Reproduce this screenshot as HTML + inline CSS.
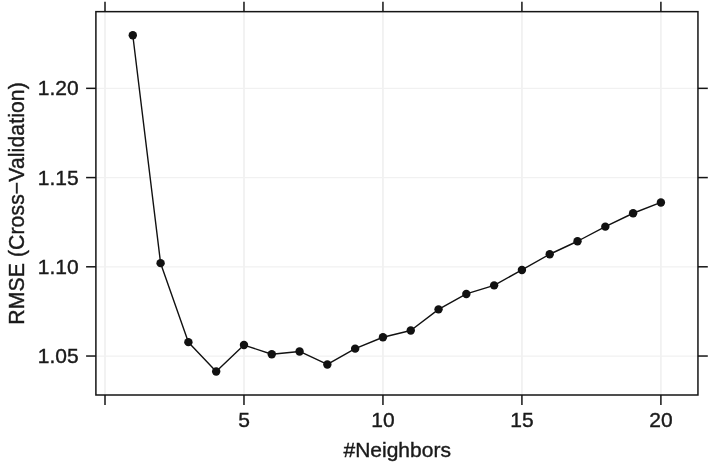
<!DOCTYPE html>
<html lang="en"><head><meta charset="utf-8"><title>RMSE (Cross-Validation) vs #Neighbors</title>
<style>html,body{margin:0;padding:0;background:#fff;}svg{display:block;}text{font-family:"Liberation Sans",sans-serif;fill:#1a1a1a;stroke:#1a1a1a;stroke-width:0.4px;}</style></head><body>
<svg width="717" height="463" viewBox="0 0 717 463">
<rect width="717" height="463" fill="#fff"/>
<g stroke="#f1f1f1" fill="none">
<line x1="105.00" y1="11.65" x2="105.00" y2="395.0" stroke-width="1.8"/>
<line x1="243.98" y1="11.65" x2="243.98" y2="395.0" stroke-width="1.8"/>
<line x1="382.95" y1="11.65" x2="382.95" y2="395.0" stroke-width="1.8"/>
<line x1="521.92" y1="11.65" x2="521.92" y2="395.0" stroke-width="1.8"/>
<line x1="660.90" y1="11.65" x2="660.90" y2="395.0" stroke-width="1.8"/>
<line x1="95.9" y1="88.35" x2="697.95" y2="88.35" stroke-width="1.2"/>
<line x1="95.9" y1="177.58" x2="697.95" y2="177.58" stroke-width="1.2"/>
<line x1="95.9" y1="266.8" x2="697.95" y2="266.8" stroke-width="1.2"/>
<line x1="95.9" y1="356.03" x2="697.95" y2="356.03" stroke-width="1.2"/>
</g>
<polyline fill="none" stroke="#111" stroke-width="1.4" stroke-linejoin="round" points="132.8,35.25 160.59,263.15 188.39,342.15 216.18,371.55 243.98,345.05 271.77,354.25 299.57,351.45 327.36,364.45 355.16,348.65 382.95,337.25 410.75,330.45 438.54,309.35 466.34,293.95 494.13,285.35 521.92,269.95 549.72,254.25 577.52,241.25 605.31,226.65 633.11,213.25 660.9,202.45"/>
<g fill="#111">
<circle cx="132.8" cy="35.25" r="4.2"/>
<circle cx="160.59" cy="263.15" r="4.2"/>
<circle cx="188.39" cy="342.15" r="4.2"/>
<circle cx="216.18" cy="371.55" r="4.2"/>
<circle cx="243.98" cy="345.05" r="4.2"/>
<circle cx="271.77" cy="354.25" r="4.2"/>
<circle cx="299.57" cy="351.45" r="4.2"/>
<circle cx="327.36" cy="364.45" r="4.2"/>
<circle cx="355.16" cy="348.65" r="4.2"/>
<circle cx="382.95" cy="337.25" r="4.2"/>
<circle cx="410.75" cy="330.45" r="4.2"/>
<circle cx="438.54" cy="309.35" r="4.2"/>
<circle cx="466.34" cy="293.95" r="4.2"/>
<circle cx="494.13" cy="285.35" r="4.2"/>
<circle cx="521.92" cy="269.95" r="4.2"/>
<circle cx="549.72" cy="254.25" r="4.2"/>
<circle cx="577.52" cy="241.25" r="4.2"/>
<circle cx="605.31" cy="226.65" r="4.2"/>
<circle cx="633.11" cy="213.25" r="4.2"/>
<circle cx="660.9" cy="202.45" r="4.2"/>
</g>
<g stroke="#151515" stroke-width="1.5" fill="none">
<line x1="105.00" y1="11.65" x2="105.00" y2="1.7"/>
<line x1="105.00" y1="395.0" x2="105.00" y2="405.0"/>
<line x1="243.98" y1="11.65" x2="243.98" y2="1.7"/>
<line x1="243.98" y1="395.0" x2="243.98" y2="405.0"/>
<line x1="382.95" y1="11.65" x2="382.95" y2="1.7"/>
<line x1="382.95" y1="395.0" x2="382.95" y2="405.0"/>
<line x1="521.92" y1="11.65" x2="521.92" y2="1.7"/>
<line x1="521.92" y1="395.0" x2="521.92" y2="405.0"/>
<line x1="660.90" y1="11.65" x2="660.90" y2="1.7"/>
<line x1="660.90" y1="395.0" x2="660.90" y2="405.0"/>
<line x1="95.9" y1="88.35" x2="86.1" y2="88.35"/>
<line x1="697.95" y1="88.35" x2="707.8" y2="88.35"/>
<line x1="95.9" y1="177.58" x2="86.1" y2="177.58"/>
<line x1="697.95" y1="177.58" x2="707.8" y2="177.58"/>
<line x1="95.9" y1="266.8" x2="86.1" y2="266.8"/>
<line x1="697.95" y1="266.8" x2="707.8" y2="266.8"/>
<line x1="95.9" y1="356.03" x2="86.1" y2="356.03"/>
<line x1="697.95" y1="356.03" x2="707.8" y2="356.03"/>
<rect x="95.9" y="11.65" width="602.05" height="383.35"/>
</g>
<g font-size="21px" text-anchor="middle">
<text x="243.98" y="427">5</text>
<text x="382.95" y="427">10</text>
<text x="521.92" y="427">15</text>
<text x="660.90" y="427">20</text>
</g>
<g font-size="21px" text-anchor="end">
<text x="78.6" y="95.35">1.20</text>
<text x="78.6" y="184.58">1.15</text>
<text x="78.6" y="273.80">1.10</text>
<text x="78.6" y="363.03">1.05</text>
</g>
<text x="397.2" y="457.45" font-size="21px" text-anchor="middle">#Neighbors</text>
<text transform="translate(23.6,203.4) rotate(-90)" font-size="21.2px" letter-spacing="0.09" text-anchor="middle">RMSE (Cross−Validation)</text>
</svg></body></html>
